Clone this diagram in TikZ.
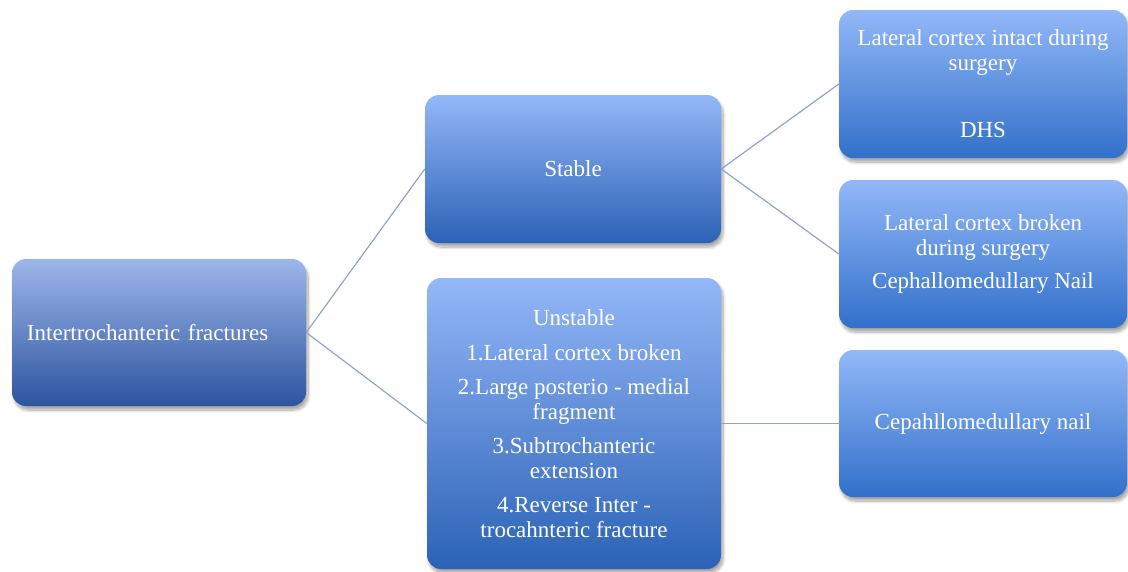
\documentclass[tikz,border=0pt]{standalone}
\usepackage{fontspec}
\setmainfont{Liberation Serif}
\usetikzlibrary{shadows,shadows.blur}
\definecolor{roottop}{HTML}{9DB6EA}
\definecolor{rootbot}{HTML}{2D549F}
\definecolor{boxtop}{HTML}{94B7F8}
\definecolor{boxbot}{HTML}{2B62B6}
\definecolor{rtop}{HTML}{92B8F8}
\definecolor{rbot}{HTML}{3270CA}
\definecolor{linkcol}{HTML}{8EA4CB}
\begin{document}
\begin{tikzpicture}[x=1pt,y=-1pt,
  box/.style={rounded corners=14pt, draw=none,
    blur shadow={shadow xshift=2pt, shadow yshift=-4pt, shadow blur steps=8, shadow opacity=35, shadow blur radius=3pt},
    text=white, font=\fontsize{23}{25}\selectfont, align=center, inner sep=0pt},
  bluebox/.style={box, top color=boxtop, bottom color=boxbot},
  rbox/.style={box, top color=rtop, bottom color=rbot},
  link/.style={draw=linkcol, line width=1.2pt}]
\useasboundingbox (0,0) rectangle (1128,571);

\node[box, top color=roottop, bottom color=rootbot, minimum width=294pt, minimum height=147pt,
  text width=264pt, align=left] (root) at (159,332.5) {Intertrochanteric fractures};

\node[bluebox, minimum width=296pt, minimum height=148pt] (stable) at (573,169) {Stable};

\node[bluebox, minimum width=294pt, minimum height=291pt] (unstable) at (574,423.5)
  {Unstable\\[10pt]1.Lateral cortex broken\\[9pt]2.Large posterio - medial\\fragment\\[9pt]3.Subtrochanteric\\extension\\[9pt]4.Reverse Inter -\\trocahnteric fracture};

\node[rbox, minimum width=288pt, minimum height=148pt] (r1) at (983,84)
  {Lateral cortex intact during\\surgery\\[42pt]DHS};

\node[rbox, minimum width=288pt, minimum height=148pt] (r2) at (983,254)
  {Lateral cortex broken\\during surgery\\[8pt]Cephallomedullary Nail};

\node[rbox, minimum width=288pt, minimum height=147pt] (r3) at (983,423.5)
  {Cepahllomedullary nail};

\draw[link] (root.east) -- (stable.west);
\draw[link] (root.east) -- (unstable.west);
\draw[link] (stable.east) -- (r1.west);
\draw[link] (stable.east) -- (r2.west);
\draw[link] (unstable.east) -- (r3.west);
\end{tikzpicture}
\end{document}
